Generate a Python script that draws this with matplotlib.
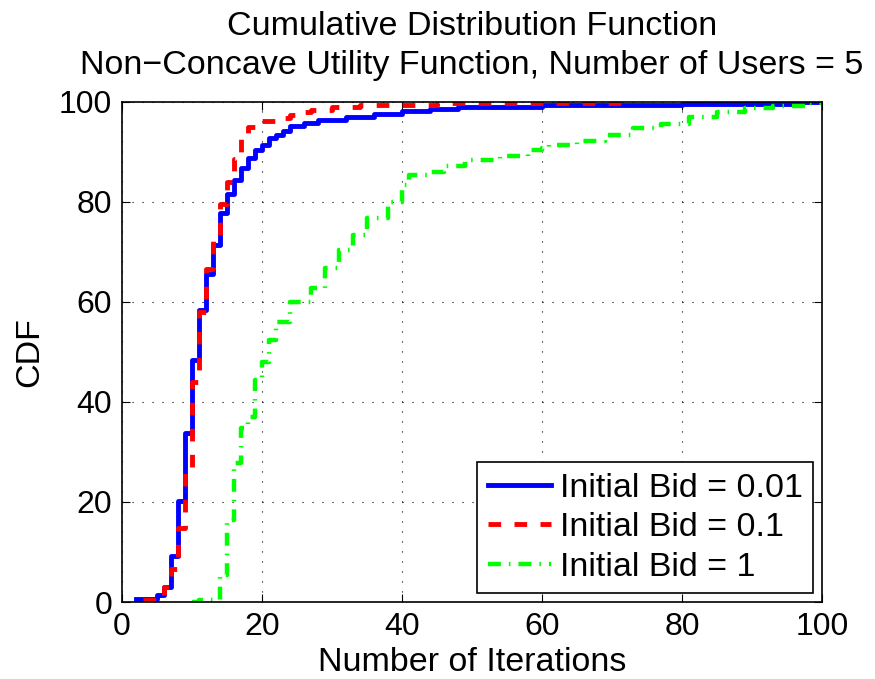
import matplotlib
matplotlib.use("Agg")
import matplotlib.pyplot as plt
import numpy as np

# step points (iteration, CDF %)
blue_x = [2, 5, 6, 7, 8, 9, 10, 11, 12, 13, 14, 15, 16, 17, 18, 19, 20, 21, 22, 23, 24,
          26, 28, 32, 36, 40, 44, 48, 60, 80, 96, 100]
blue_y = [0.6, 1.4, 3.1, 9.2, 20.1, 33.7, 48.4, 58.4, 65.5, 71.4, 77.7, 81.5, 84.4, 86.7,
          88.7, 90.4, 91.4, 92.7, 93.4, 94.1, 95.1, 95.7, 96.4, 97.0, 97.6, 98.1, 98.5,
          98.9, 99.3, 99.6, 99.9, 100]

red_x = [3, 5, 6, 7, 8, 9, 10, 11, 12, 13, 14, 15, 16, 17, 18, 19, 23, 24, 26, 27, 30,
         34, 45, 55, 72]
red_y = [0.4, 1.0, 3.0, 6.7, 14.7, 27.0, 44.0, 58.0, 66.5, 72.4, 79.5, 84.0, 88.5, 93.0,
         95.0, 96.1, 96.8, 97.4, 98.0, 98.4, 98.9, 99.4, 99.7, 99.8, 100]

green_x = [10, 11, 14, 15, 16, 17, 18, 19, 20, 21, 22, 24, 27, 29, 31, 33, 35, 38, 40,
           41, 44, 46, 49, 54, 58, 60, 61, 65, 69, 73, 77, 81, 85, 89, 93, 98, 100]
green_y = [0.1, 0.5, 5.4, 16.4, 27.8, 34.7, 37.0, 44.4, 48.0, 52.4, 56.0, 60.0, 62.7,
           66.7, 70.4, 73.4, 76.7, 80.0, 83.4, 85.4, 86.0, 87.1, 88.4, 89.1, 90.4, 90.7,
           91.4, 92.2, 93.3, 94.7, 95.5, 97.0, 98.0, 98.7, 99.1, 99.7, 100]

labels = ["Initial Bid = 0.01", "Initial Bid = 0.1", "Initial Bid = 1"]

plt.rcParams['font.family'] = ['Liberation Sans', 'DejaVu Sans']

fig = plt.figure(figsize=(8.75, 6.79), dpi=100)
ax = fig.add_axes([0.1394, 0.1134, 0.8, 0.7364])

ax.step(blue_x, blue_y, where='post', color='#0000ff', lw=3.5, label=labels[0])
ax.step(red_x, red_y, where='post', color='#ff0000', lw=3.5, ls=(0, (2.6, 2.75)), label=labels[1])
ax.step(green_x, green_y, where='post', color='#00ff00', lw=3.2, ls=(0, (2.9, 1.8, 0.35, 1.8)),
        label=labels[2])

ax.set_xlim(0, 100)
ax.set_ylim(0, 100)
ax.set_xticks(np.arange(0, 101, 20))
ax.set_yticks(np.arange(0, 101, 20))
ax.grid(True, color='black', ls=(0, (1, 8)), lw=0.8)
ax.tick_params(direction='in', length=6, top=True, right=True, labelsize=23, pad=7)
for s in ax.spines.values():
    s.set_linewidth(1.2)

ax.set_xlabel("Number of Iterations", fontsize=24.5, labelpad=4)
ax.set_ylabel("CDF", fontsize=24.5, labelpad=10)
ax.set_title("Cumulative Distribution Function\nNon\u2212Concave Utility Function, Number of Users = 5",
             fontsize=24.5, pad=20, linespacing=1.35)

leg = ax.legend(loc='lower right', fontsize=24.5, fancybox=False, framealpha=1,
                edgecolor='black', handlelength=1.85, borderaxespad=0.25,
                labelspacing=0.25, handletextpad=0.26, borderpad=0.32)
leg.get_frame().set_linewidth(1.2)

fig.savefig("out.png", dpi=100)
